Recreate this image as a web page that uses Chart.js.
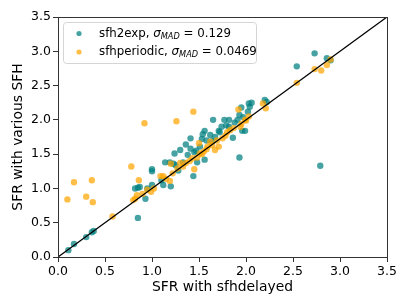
<!DOCTYPE html>
<html>
<head>
<meta charset="utf-8">
<script src="https://cdn.jsdelivr.net/npm/chart.js@4"></script>
<style>
  html, body { margin: 0; padding: 0; background: #fff; }
  #wrap { width: 409px; height: 307px; }
</style>
</head>
<body>
<div id="wrap"><canvas id="sfr"></canvas></div>
<script>
// sfh2exp vs sfhdelayed
const expX = [0.11, 0.17, 0.30, 0.36, 0.38, 0.85, 0.82, 0.85, 0.87, 0.93, 0.95, 1.00, 1.00, 1.00, 1.12, 1.14, 1.19, 1.20, 1.24, 1.23, 1.28, 1.30, 1.33, 1.36, 1.41, 1.41, 1.44, 1.45, 1.48, 1.51, 1.53, 1.54, 1.56, 1.56, 1.62, 1.65, 1.67, 1.71, 1.74, 1.77, 1.82, 1.82, 1.86, 1.91, 1.93, 1.93, 1.95, 1.96, 1.99, 2.02, 2.03, 2.06, 2.04, 2.20, 2.22, 2.54, 2.73, 2.79, 2.86, 2.90,
  1.10, 1.25, 1.38, 1.47, 1.58, 1.64, 1.72, 1.79, 1.88, 1.97];
const expY = [0.10, 0.19, 0.29, 0.36, 0.38, 0.57, 1.00, 1.01, 1.02, 0.85, 1.00, 1.25, 1.28, 1.05, 1.05, 1.38, 1.38, 1.03, 1.51, 1.36, 1.26, 1.56, 1.38, 1.64, 1.73, 1.58, 1.18, 1.53, 1.38, 1.61, 1.72, 1.79, 1.84, 1.42, 1.78, 2.00, 1.75, 1.84, 1.90, 2.00, 2.00, 1.90, 1.74, 2.00, 1.45, 2.07, 2.18, 1.84, 1.84, 2.12, 2.24, 2.25, 2.19, 2.29, 2.26, 2.78, 2.97, 1.33, 2.90, 2.87,
  1.12, 1.34, 1.49, 1.55, 1.70, 1.69, 1.82, 1.92, 1.96, 2.04];
// sfhperiodic vs sfhdelayed
const perX = [0.10, 0.17, 0.30, 0.36, 0.37, 0.58, 0.78, 0.80, 0.84, 0.86, 0.92, 0.95, 0.99, 1.09, 1.12, 1.19, 1.20, 1.26, 1.27, 1.30, 1.36, 1.43, 1.44, 1.45, 1.48, 1.50, 1.51, 1.55, 1.59, 1.62, 1.67, 1.71, 1.75, 1.83, 1.87, 1.92, 1.94, 1.99, 2.03, 2.18, 2.21, 2.54, 2.73, 2.80, 2.86, 2.90,
  0.82, 0.90, 1.02, 1.15, 1.22, 1.33, 1.40, 1.53, 1.58, 1.64, 1.69, 1.78, 1.80, 1.95, 2.00];
const perY = [0.84, 1.09, 0.88, 1.12, 0.80, 0.59, 1.32, 0.83, 0.90, 1.12, 1.95, 0.98, 0.95, 1.18, 1.18, 1.11, 1.36, 1.98, 1.29, 1.37, 1.37, 1.44, 2.12, 1.28, 1.45, 1.66, 1.51, 1.54, 1.61, 1.68, 1.56, 1.61, 1.73, 1.85, 1.88, 2.15, 1.90, 2.00, 2.05, 2.24, 2.17, 2.54, 2.74, 2.72, 2.80, 2.88,
  0.85, 0.92, 1.00, 1.14, 1.22, 1.32, 1.40, 1.50, 1.57, 1.63, 1.70, 1.77, 1.82, 1.94, 1.99];
const oneToOne = [0, 3.5];
const axisTicks = [0, 0.5, 1.0, 1.5, 2.0, 2.5, 3.0, 3.5];
const legendNames = ["sfh2exp", "sfhperiodic"];
const sigmaMad = ["0.129", "0.0469"];

const tealCol = "rgba(0,128,128,0.72)";
const orangeCol = "rgba(255,165,0,0.72)";
const FONT = "'DejaVu Sans', sans-serif";
const AXCOL = "#333";

function pts(xs, ys) {
  return xs.map((x, i) => ({ x: x, y: ys[i] }));
}

// matplotlib-style frame + custom legend with subscript
const framePlugin = {
  id: "frame",
  afterDraw(chart) {
    const { ctx, chartArea: a } = chart;
    ctx.save();
    ctx.strokeStyle = AXCOL;
    ctx.lineWidth = 1;
    ctx.strokeRect(a.left + 0.5, a.top + 0.5, a.right - a.left, a.bottom - a.top);

    // legend box
    const bx = a.left + 5, by = a.top + 5, bw = 193, bh = 41;
    ctx.fillStyle = "rgba(255,255,255,0.8)";
    ctx.strokeStyle = "#d5d5d5";
    ctx.beginPath();
    ctx.roundRect(bx + 0.5, by + 0.5, bw, bh, 3);
    ctx.fill();
    ctx.stroke();

    const cols = [tealCol, orangeCol];
    legendNames.forEach((name, i) => {
      const cy = by + 11.5 + i * 18.5;
      ctx.fillStyle = cols[i];
      ctx.beginPath();
      ctx.arc(bx + 16, cy, 2.6, 0, Math.PI * 2);
      ctx.fill();
      ctx.fillStyle = "#000";
      ctx.textBaseline = "middle";
      let tx = bx + 36;
      ctx.font = "11.8px " + FONT;
      const s1 = name + ", ";
      ctx.fillText(s1, tx, cy);
      tx += ctx.measureText(s1).width;
      ctx.font = "italic 11.8px " + FONT;
      ctx.fillText("\u03c3", tx, cy);
      tx += ctx.measureText("\u03c3").width;
      ctx.font = "italic 8.2px " + FONT;
      ctx.fillText("MAD", tx, cy + 3);
      tx += ctx.measureText("MAD").width;
      ctx.font = "11.8px " + FONT;
      ctx.fillText(" = " + sigmaMad[i], tx, cy);
    });
    ctx.restore();
  }
};

function axis(title, fitKey, size) {
  return {
    type: "linear",
    min: 0,
    max: 3.5,
    afterBuildTicks(s) { s.ticks = axisTicks.map(v => ({ value: v })); },
    afterFit(s) { s[fitKey] = size; },
    border: { display: true, color: AXCOL, width: 1 },
    grid: { display: true, drawOnChartArea: false, drawTicks: true, tickLength: 5, color: AXCOL },
    ticks: {
      color: "#000",
      padding: 2,
      maxRotation: 0,
      font: { family: FONT, size: 12.5 },
      callback: v => v.toFixed(1)
    },
    title: {
      display: true,
      text: title,
      color: "#000",
      padding: { top: 10, bottom: 11 },
      font: { family: FONT, size: 13.9 }
    }
  };
}

new Chart("sfr", {
  type: "scatter",
  data: {
    datasets: [
      {
        label: "1:1",
        data: pts(oneToOne, oneToOne),
        showLine: true,
        borderColor: "#000",
        borderWidth: 1.3,
        pointRadius: 0,
        order: 0
      },
      {
        label: legendNames[0],
        data: pts(expX, expY),
        backgroundColor: tealCol,
        borderWidth: 0,
        pointRadius: 3.2,
        order: 2
      },
      {
        label: legendNames[1],
        data: pts(perX, perY),
        backgroundColor: orangeCol,
        borderWidth: 0,
        pointRadius: 3.2,
        order: 1
      }
    ]
  },
  options: {
    responsive: true,
    maintainAspectRatio: false,
    animation: false,
    layout: { padding: { left: 0, right: 22, top: 17, bottom: 0 } },
    plugins: {
      legend: { display: false },
      tooltip: { enabled: false }
    },
    scales: {
      x: axis("SFR with sfhdelayed", "height", 50),
      y: axis("SFR with various SFH", "width", 58)
    }
  },
  plugins: [framePlugin]
});
</script>
</body>
</html>
